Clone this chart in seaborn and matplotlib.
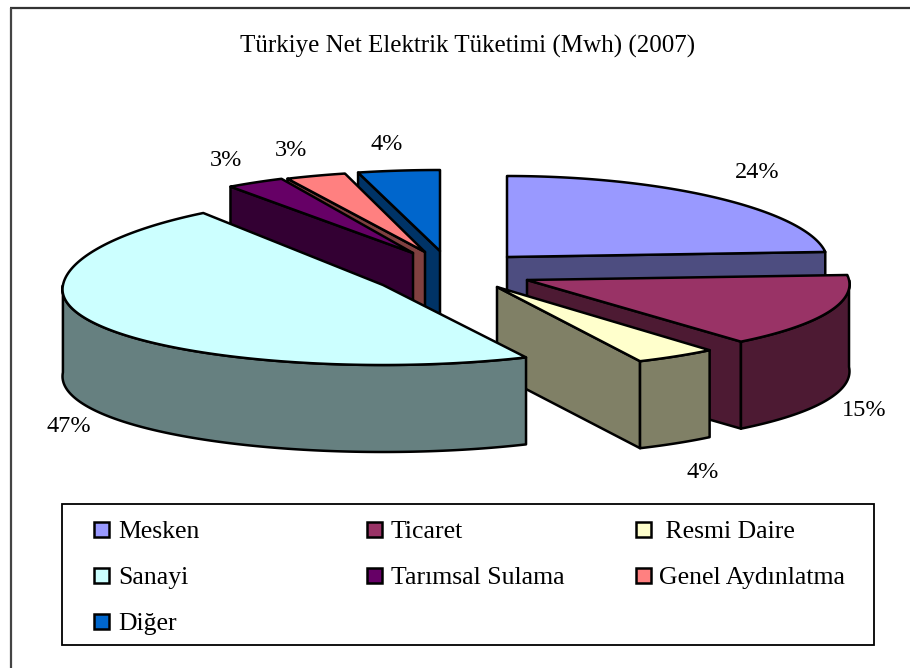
import numpy as np
import matplotlib
matplotlib.use("Agg")
import matplotlib.pyplot as plt
from matplotlib.patches import Polygon, Rectangle
import seaborn as sns

# data
categories = ["Mesken", "Ticaret", " Resmi Daire", "Sanayi", "Tarımsal Sulama", "Genel Aydınlatma", "Diğer"]
values = [24, 15, 4, 47, 3, 3, 4]
title = "Türkiye Net Elektrik Tüketimi (Mwh) (2007)"

# styles / layout
top_colors = ["#9999FF", "#993366", "#FFFFCC", "#CCFFFF", "#660066", "#FF8080", "#0066CC"]
side_colors = ["#4D4D80", "#4D1A33", "#808066", "#668080", "#330033", "#804040", "#003366"]
apexes = [(507, 257), (527, 280), (497, 287), (383, 285), (413, 253), (425, 252), (440, 251)]
# horizontal radius, front vertical radius, back vertical radius
radii = [(320, 81, 81), (322, 80, 80), (320, 82, 82), (320, 80, 89),
         (325, 82, 82), (340, 81, 81), (348, 81, 81)]
label_pos = [(757, 173), (864, 411), (703, 473), (69, 426), (226, 160), (291, 151), (387, 144)]
legend_slots = [(94, 538), (367, 538), (636, 538), (94, 584), (367, 584), (636, 584), (94, 630)]
legend_text_x = [118, 391, 659]
draw_order = [0, 1, 2, 6, 5, 4, 3]
depth = 87
persp = 0.055
FONT = "Liberation Serif"

sns.set_theme(style="white")
plt.rcParams["font.family"] = [FONT, "DejaVu Serif"]

fig = plt.figure(figsize=(9.10, 6.68), dpi=100, facecolor="white")
ax = fig.add_axes([0, 0, 1, 1])

wedges, _ = ax.pie(values, startangle=90, counterclock=False, radius=1, center=(0, 0),
                   colors=top_colors)
for w in wedges:
    w.set_visible(False)
ax.set_aspect("auto")
ax.set_xlim(0, 910)
ax.set_ylim(668, 0)
ax.axis("off")

ax.plot([10, 910], [8, 8], color="#333333", lw=1.6, zorder=0, solid_capstyle="butt")
ax.plot([11, 11], [8, 668], color="#444444", lw=1.6, zorder=0, solid_capstyle="butt")


def pt(c, r, deg):
    t = np.radians(deg)
    s = np.sin(t)
    x = c[0] + r[0] * np.cos(t) * (1 - persp * s)
    y = c[1] - np.where(s > 0, r[2], r[1]) * s
    return x, y


z = 1
for i in draw_order:
    w, c, r = wedges[i], apexes[i], radii[i]
    lo, hi = w.theta1, w.theta2
    kw = dict(fc=side_colors[i], ec="black", lw=1.8, joinstyle="round")
    # radial walls that face the viewer
    for ang, visible in ((lo, np.cos(np.radians(lo)) > 1e-6), (hi, np.cos(np.radians(hi)) < -1e-6)):
        if visible:
            x, y = pt(c, r, ang)
            ax.add_patch(Polygon([c, (x, y), (x, y + depth), (c[0], c[1] + depth)], zorder=z, **kw))
    # outer curved wall
    th = np.linspace(lo, hi, 400)
    x, y = pt(c, r, th)
    mask = np.sin(np.radians(th)) < 0
    if mask.sum() > 1:
        xm, ym = x[mask], y[mask]
        ax.add_patch(Polygon(np.r_[np.c_[xm, ym], np.c_[xm, ym + depth][::-1]], zorder=z + 0.1, **kw))
    # top face
    ax.add_patch(Polygon(np.r_[[c], np.c_[x, y]], fc=top_colors[i], ec="black", lw=1.8,
                         joinstyle="round", zorder=z + 0.2))
    z += 1

ax.text(468, 53, title, ha="center", va="baseline", fontsize=18, color="black", zorder=20)
for v, (x, y) in zip(values, label_pos):
    ax.text(x, y, f"{v}%", ha="center", va="center", fontsize=17.5, color="black", zorder=20)

# legend box with manually spaced columns, as in the reference
ax.add_patch(Rectangle((62, 504), 812, 141, fc="white", ec="black", lw=1.3, zorder=30))
for i, (name, color) in enumerate(zip(categories, top_colors)):
    sx, base = legend_slots[i]
    ax.add_patch(Rectangle((sx, base - 16), 15, 15, fc=color, ec="black", lw=1.8, zorder=31))
    col = i % 3
    ax.text(legend_text_x[col], base, name, ha="left", va="baseline",
            fontsize=18.5, color="black", zorder=31)

fig.savefig("out.png", dpi=100, facecolor="white")
